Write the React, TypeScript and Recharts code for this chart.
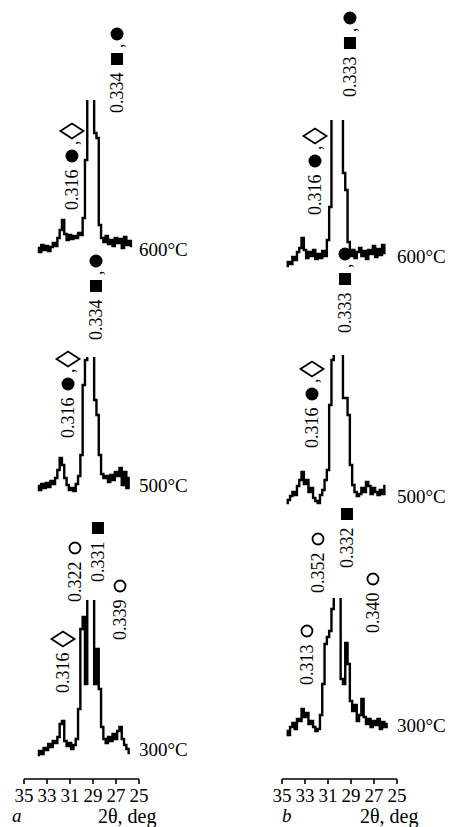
import { LineChart, Line, XAxis, YAxis, ReferenceDot } from 'recharts';

const FONT = "'Liberation Serif', 'Times New Roman', serif";

// 2θ sampling, deg (column a and column b were scanned over slightly different ranges)
const TWO_THETA_A = [
  33.8, 33.6, 33.4, 33.2, 33.0, 32.8, 32.6, 32.4, 32.2, 32.0, 31.8, 31.6, 31.4, 31.2,
  31.0, 30.8, 30.6, 30.4, 30.2, 30.0, 29.8, 29.6, 29.4, 29.2, 29.0, 28.8, 28.6, 28.4,
  28.2, 28.0, 27.8, 27.6, 27.4, 27.2, 27.0, 26.8, 26.6, 26.4, 26.2, 26.0, 25.8, 25.6,
];
const TWO_THETA_B = [
  34.6, 34.4, 34.2, 34.0, 33.8, 33.6, 33.4, 33.2, 33.0, 32.8, 32.6, 32.4, 32.2, 32.0,
  31.8, 31.6, 31.4, 31.2, 31.0, 30.8, 30.6, 30.4, 30.2, 30.0, 29.8, 29.6, 29.4, 29.2,
  29.0, 28.8, 28.6, 28.4, 28.2, 28.0, 27.8, 27.6, 27.4, 27.2, 27.0, 26.8, 26.6, 26.4,
  26.2, 26.0, 25.8,
];

// intensities, a.u. (peaks run off the top of each frame)
const A_600 = [
  12, 8, 15, 10, 14, 9, 13, 17, 14, 22, 30, 40, 26, 20, 25, 21, 24, 22, 27, 25, 42,
  100, 230, 320, 240, 127, 122, 35, 22, 18, 24, 16, 20, 14, 22, 17, 21, 12, 23, 15, 19, 14,
];
const A_500 = [
  14, 10, 16, 12, 17, 13, 19, 16, 22, 30, 42, 35, 22, 15, 10, 12, 9, 16, 24, 45, 115,
  140, 200, 260, 210, 100, 85, 45, 26, 22, 24, 18, 25, 20, 28, 24, 32, 15, 28, 12, 22, null,
];
const A_300 = [
  24, 28, 25, 31, 29, 35, 32, 38, 36, 42, 55, 58, 38, 33, 36, 30, 34, 40, 70, 150, 162,
  95, 200, 280, 220, 95, 130, 90, 52, 40, 36, 42, 38, 45, 40, 48, 52, 40, 34, 30, 26, null,
];
const B_600 = [
  4, 8, 6, 13, 10, 18, 22, 32, 20, 12, 18, 14, 20, 11, 16, 12, 19, 14, 30, 63, 175, 300,
  340, 260, 160, 97, 80, 28, 14, 20, 12, 18, 22, 14, 19, 11, 20, 16, 24, 13, 21, 15, 25, 17, null,
];
const B_500 = [
  7, 10, 14, 18, 15, 24, 30, 38, 26, 30, 18, 22, 12, 9, 7, 15, 20, 30, 40, 105, 150, 240,
  300, 250, 160, 112, 112, 95, 45, 25, 18, 14, 16, 22, 18, 28, 24, 16, 22, 18, 15, 20, 16, 24, null,
];
const B_300 = [
  48, 44, 52, 56, 50, 60, 58, 70, 62, 66, 55, 58, 52, 48, 50, 64, 95, 135, 142, 148, 170,
  220, 260, 200, 100, 95, 136, 115, 78, 68, 74, 58, 64, 80, 62, 55, 60, 52, 58, 54, 60, 50, 57, 52, 55,
];

const TICKS = [35, 33, 31, 29, 27, 25];

type MarkKind = 'filled' | 'square' | 'diamond' | 'open';
interface Note {
  t: number;
  level: number;
  text: string;
  marks: MarkKind[];
}

// interplanar spacings, nm, with phase marks
const NOTES_A_600: Note[] = [
  { t: 26.91, level: 147, text: '0.334', marks: ['square', 'filled'] },
  { t: 30.83, level: 50, text: '0.316', marks: ['filled', 'diamond'] },
];
const NOTES_A_500: Note[] = [
  { t: 28.74, level: 160, text: '0.334', marks: ['square', 'filled'] },
  { t: 31.17, level: 62, text: '0.316', marks: ['filled', 'diamond'] },
];
const NOTES_A_300: Note[] = [
  { t: 31.61, level: 86, text: '0.316', marks: ['diamond'] },
  { t: 30.57, level: 177, text: '0.322', marks: ['open'] },
  { t: 28.57, level: 197, text: '0.331', marks: ['square'] },
  { t: 26.65, level: 139, text: '0.339', marks: ['open'] },
];
const NOTES_B_600: Note[] = [
  { t: 29.09, level: 173, text: '0.333', marks: ['square', 'filled'] },
  { t: 32.13, level: 55, text: '0.316', marks: ['filled', 'diamond'] },
];
const NOTES_B_500: Note[] = [
  { t: 29.52, level: 177, text: '0.333', marks: ['square', 'filled'] },
  { t: 32.39, level: 62, text: '0.316', marks: ['filled', 'diamond'] },
];
const NOTES_B_300: Note[] = [
  { t: 29.35, level: 211, text: '0.332', marks: ['square'] },
  { t: 31.87, level: 186, text: '0.352', marks: ['open'] },
  { t: 27.09, level: 146, text: '0.340', marks: ['open'] },
  { t: 32.83, level: 94, text: '0.313', marks: ['open'] },
];

function Mark({ kind, x, y }: { kind: MarkKind; x: number; y: number }) {
  if (kind === 'filled') return <circle cx={x} cy={y} r={6.5} fill="#000" />;
  if (kind === 'open')
    return <circle cx={x} cy={y} r={5.5} fill="#fff" stroke="#000" strokeWidth={1.8} />;
  if (kind === 'square') return <rect x={x - 6} y={y - 6} width={12} height={12} fill="#000" />;
  return (
    <polygon
      points={`${x - 7.5},${y} ${x},${y - 11.5} ${x + 7.5},${y} ${x},${y + 11.5}`}
      fill="#fff"
      stroke="#000"
      strokeWidth={1.8}
    />
  );
}

// vertical label read bottom-to-top, starting at (cx, cy)
function NoteShape({ cx, cy, note }: { cx: number; cy: number; note: Note }) {
  return (
    <g transform={`rotate(-90 ${cx} ${cy})`}>
      <text x={cx} y={cy} dominantBaseline="central" fontSize={18} fontFamily={FONT} fill="#000">
        {note.text}
      </text>
      {note.marks.map((m, i) => (
        <Mark key={i} kind={m} x={cx + 54 + 25 * i} y={cy} />
      ))}
      {note.marks.length > 1 && (
        <text x={cx + 65} y={cy} dominantBaseline="central" fontSize={18} fontFamily={FONT}>
          ,
        </text>
      )}
    </g>
  );
}

interface TraceProps {
  left: number;
  top: number;
  width: number;
  height: number;
  margin: { top: number; right: number; bottom: number; left: number };
  grid: number[];
  values: (number | null)[];
  yMax: number;
  notes: Note[];
  temp: string;
  tempLevel: number;
  showAxis?: boolean;
}

function Trace(p: TraceProps) {
  const data = p.grid.map((t, i) => ({ t, v: p.values[i] }));
  return (
    <div style={{ position: 'absolute', left: p.left, top: p.top }}>
      <LineChart width={p.width} height={p.height} data={data} margin={p.margin}>
        <XAxis
          dataKey="t"
          type="number"
          domain={[25, 35]}
          reversed
          allowDataOverflow
          ticks={TICKS}
          interval={0}
          hide={!p.showAxis}
          height={30}
          tickSize={5}
          tickMargin={5}
          axisLine={{ stroke: '#000', strokeWidth: 1.6 }}
          tickLine={{ stroke: '#000', strokeWidth: 1.6 }}
          tick={{ fill: '#000', fontSize: 19, fontFamily: FONT }}
        />
        <YAxis hide type="number" domain={[0, p.yMax]} allowDataOverflow />
        <Line
          type="step"
          dataKey="v"
          stroke="#000"
          strokeWidth={2.4}
          dot={false}
          isAnimationActive={false}
        />
        {p.notes.map((n, i) => (
          <ReferenceDot
            key={i}
            x={n.t}
            y={n.level}
            ifOverflow="visible"
            shape={(s: any) => <NoteShape cx={s.cx} cy={s.cy} note={n} />}
          />
        ))}
        <ReferenceDot
          x={25}
          y={p.tempLevel}
          ifOverflow="visible"
          shape={(s: any) => (
            <text x={s.cx} y={s.cy} dominantBaseline="central" fontSize={19} fontFamily={FONT} fill="#000">
              {p.temp}
            </text>
          )}
        />
      </LineChart>
    </div>
  );
}

const textStyle = {
  position: 'absolute' as const,
  fontFamily: FONT,
  fontSize: 19,
  lineHeight: 1,
  color: '#000',
  whiteSpace: 'nowrap' as const,
};

export default function App() {
  const mA = { left: 24, right: 87 };
  const mB = { left: 56, right: 55 };
  return (
    <div style={{ position: 'absolute', left: 0, top: 0, width: 452, height: 827, background: '#fff' }}>
      <Trace left={0} top={0} width={226} height={265} margin={{ top: 100, bottom: 5, ...mA }}
        grid={TWO_THETA_A} values={A_600} yMax={160} notes={NOTES_A_600} temp="600°C" tempLevel={11} />
      <Trace left={0} top={245} width={226} height={260} margin={{ top: 112, bottom: 5, ...mA }}
        grid={TWO_THETA_A} values={A_500} yMax={143} notes={NOTES_A_500} temp="500°C" tempLevel={15} />
      <Trace left={0} top={515} width={226} height={312} margin={{ top: 85, bottom: 18, ...mA }}
        grid={TWO_THETA_A} values={A_300} yMax={179} notes={NOTES_A_300} temp="300°C" tempLevel={30} showAxis />

      <Trace left={226} top={0} width={226} height={275} margin={{ top: 120, bottom: 5, ...mB }}
        grid={TWO_THETA_B} values={B_600} yMax={150} notes={NOTES_B_600} temp="600°C" tempLevel={14} />
      <Trace left={226} top={240} width={226} height={275} margin={{ top: 115, bottom: 5, ...mB }}
        grid={TWO_THETA_B} values={B_500} yMax={155} notes={NOTES_B_500} temp="500°C" tempLevel={14} />
      <Trace left={226} top={500} width={226} height={327} margin={{ top: 98, bottom: 18, ...mB }}
        grid={TWO_THETA_B} values={B_300} yMax={181} notes={NOTES_B_300} temp="300°C" tempLevel={54} showAxis />

      <div style={{ ...textStyle, left: 12, top: 806, fontStyle: 'italic' }}>a</div>
      <div style={{ ...textStyle, left: 98, top: 806, fontSize: 20 }}>2θ, deg</div>
      <div style={{ ...textStyle, left: 282, top: 806, fontStyle: 'italic' }}>b</div>
      <div style={{ ...textStyle, left: 360, top: 806, fontSize: 20 }}>2θ, deg</div>
    </div>
  );
}
